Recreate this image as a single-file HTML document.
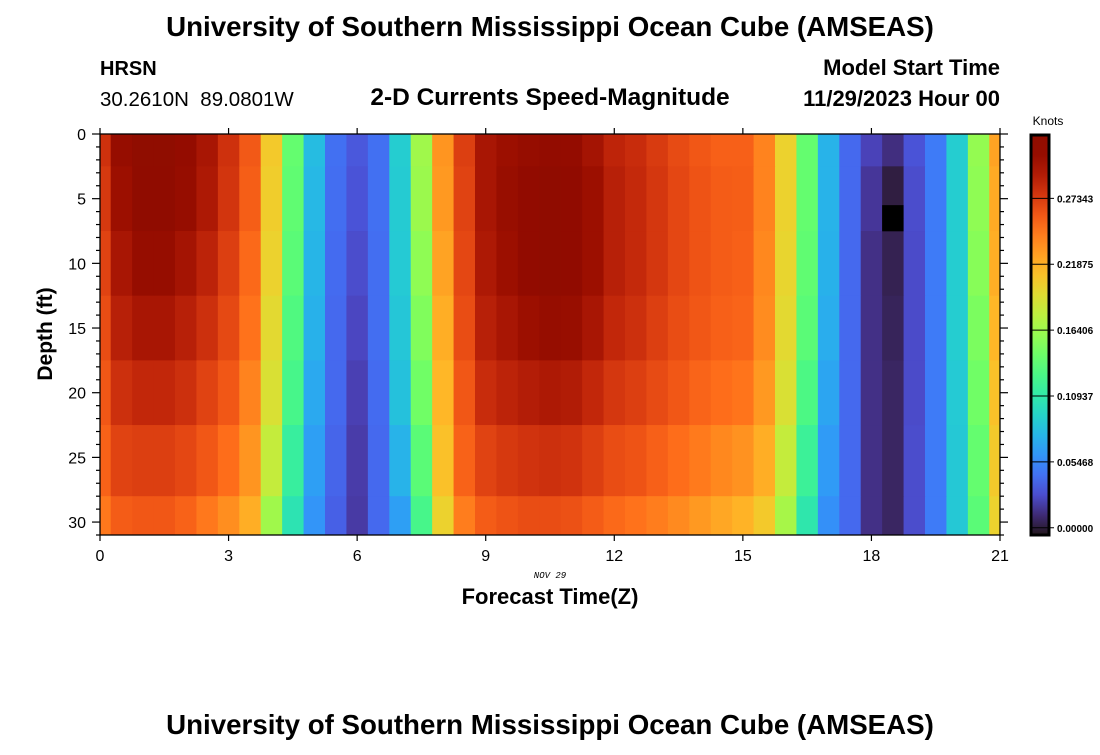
<!DOCTYPE html>
<html><head><meta charset="utf-8"><style>
body{margin:0;background:#fff;width:1100px;height:750px;overflow:hidden;font-family:"Liberation Sans",sans-serif}
svg text{font-family:"Liberation Sans",sans-serif}
</style></head><body>
<svg id="chart" width="1100" height="750" xmlns="http://www.w3.org/2000/svg">
<text x="550" y="36" text-anchor="middle" font-size="27.7" font-weight="bold">University of Southern Mississippi Ocean Cube (AMSEAS)</text>
<text x="100" y="75" font-size="20" font-weight="bold">HRSN</text>
<text x="100" y="106" font-size="20.5" xml:space="preserve">30.2610N  89.0801W</text>
<text x="550" y="105" text-anchor="middle" font-size="24.5" font-weight="bold">2-D Currents Speed-Magnitude</text>
<text x="1000" y="75" text-anchor="end" font-size="22" font-weight="bold">Model Start Time</text>
<text x="1000" y="106" text-anchor="end" font-size="22" font-weight="bold">11/29/2023 Hour 00</text>
<g id="cells"></g>
<g id="axes"></g>
<text transform="translate(52,334) rotate(-90)" text-anchor="middle" font-size="21" font-weight="bold">Depth (ft)</text>
<text x="550" y="578" text-anchor="middle" font-size="9" font-style="italic" style="font-family:'Liberation Mono',monospace">NOV 29</text>
<text x="550" y="604" text-anchor="middle" font-size="22" font-weight="bold">Forecast Time(Z)</text>
<text x="1048" y="125" text-anchor="middle" font-size="12">Knots</text>
<g id="cbar"></g>
<text x="550" y="734" text-anchor="middle" font-size="27.7" font-weight="bold">University of Southern Mississippi Ocean Cube (AMSEAS)</text>
</svg>
<script>
const hours=[0,0.5,1,1.5,2,2.5,3,3.5,4,4.5,5,5.5,6,6.5,7,7.5,8,8.5,9,9.5,10,10.5,11,11.5,12,12.5,13,13.5,14,14.5,15,15.5,16,16.5,17,17.5,18,18.5,19,19.5,20,20.5,21];
const depths=[0,5,10,15,20,25,31];
const speedD0=[0.279,0.31,0.325,0.325,0.312,0.298,0.279,0.259,0.205,0.14,0.08,0.043,0.032,0.043,0.09,0.165,0.232,0.272,0.298,0.305,0.31,0.313,0.312,0.3,0.287,0.282,0.274,0.266,0.26,0.256,0.256,0.24,0.2,0.14,0.075,0.04,0.022,0.012,0.03,0.048,0.09,0.16,0.225];
const speedD5=[0.275,0.305,0.32,0.32,0.31,0.295,0.277,0.257,0.203,0.138,0.078,0.042,0.03,0.043,0.089,0.163,0.23,0.27,0.298,0.308,0.315,0.318,0.316,0.305,0.29,0.284,0.276,0.268,0.262,0.258,0.257,0.24,0.2,0.14,0.075,0.04,0.016,0.004,0.027,0.048,0.09,0.158,0.222];
const speedD10=[0.27,0.298,0.31,0.31,0.3,0.288,0.272,0.252,0.2,0.135,0.076,0.041,0.027,0.042,0.088,0.158,0.225,0.268,0.295,0.305,0.315,0.318,0.316,0.305,0.29,0.284,0.276,0.268,0.262,0.258,0.256,0.238,0.198,0.138,0.074,0.04,0.013,0.006,0.026,0.048,0.09,0.155,0.22];
const speedD15=[0.265,0.29,0.298,0.298,0.29,0.28,0.267,0.248,0.195,0.13,0.074,0.04,0.024,0.042,0.086,0.152,0.22,0.265,0.29,0.298,0.305,0.31,0.308,0.298,0.285,0.28,0.272,0.265,0.26,0.256,0.254,0.236,0.195,0.135,0.072,0.04,0.013,0.007,0.026,0.048,0.09,0.15,0.215];
const speedD20=[0.26,0.28,0.285,0.285,0.28,0.27,0.26,0.24,0.19,0.125,0.07,0.04,0.021,0.041,0.083,0.145,0.215,0.26,0.282,0.288,0.292,0.295,0.293,0.285,0.276,0.272,0.266,0.26,0.254,0.25,0.247,0.23,0.19,0.128,0.068,0.04,0.013,0.008,0.026,0.048,0.088,0.145,0.21];
const speedD25=[0.255,0.27,0.272,0.272,0.268,0.26,0.25,0.232,0.18,0.115,0.065,0.038,0.019,0.04,0.075,0.135,0.21,0.255,0.27,0.275,0.278,0.28,0.278,0.272,0.265,0.262,0.256,0.25,0.244,0.238,0.233,0.22,0.18,0.118,0.063,0.04,0.013,0.008,0.027,0.048,0.087,0.14,0.205];
const speedD31=[0.245,0.258,0.26,0.26,0.255,0.245,0.235,0.22,0.165,0.105,0.06,0.036,0.018,0.04,0.065,0.125,0.2,0.243,0.258,0.262,0.265,0.265,0.263,0.258,0.252,0.248,0.243,0.237,0.23,0.223,0.217,0.205,0.168,0.108,0.058,0.04,0.013,0.008,0.027,0.048,0.087,0.135,0.2];
const speedRows=[speedD0,speedD5,speedD10,speedD15,speedD20,speedD25,speedD31];
const missingHours=[18.5,18.5];
const missingDepths=[6,7];
const xTicks=[0,3,6,9,12,15,18,21];
const yTicks=[0,5,10,15,20,25,30];
const cbTicks=[0,0.05468,0.10937,0.16406,0.21875,0.27343];
const cbLabels=["0.00000","0.05468","0.10937","0.16406","0.21875","0.27343"];

const NS="http://www.w3.org/2000/svg";
const X0=100,X1=1000,Y0=134,Y1=535,VMAX=0.322;
const xs=h=>X0+(h-0)/(21-0)*(X1-X0);
const ys=d=>Y0+(d-0)/(31-0)*(Y1-Y0);
function turbo(t){t=Math.max(0,Math.min(1,t));
const r=0.13572138+t*(4.6153926+t*(-42.66032258+t*(132.13108234+t*(-152.94239396+t*59.28637943))));
const g=0.09140261+t*(2.19418839+t*(4.84296658+t*(-14.18503333+t*(4.27729857+t*2.82956604))));
const b=0.1066733+t*(12.64194608+t*(-60.58204836+t*(110.36276771+t*(-89.90310912+t*27.34824973))));
const c=v=>Math.round(255*Math.max(0,Math.min(1,v)));return `rgb(${c(r)},${c(g)},${c(b)})`;}
const col=v=>turbo(v/VMAX);
function mk(tag,attrs,parent){const e=document.createElementNS(NS,tag);for(const k in attrs)e.setAttribute(k,attrs[k]);parent.appendChild(e);return e;}
const cells=document.getElementById('cells');
const dh=0.25;
for(let j=0;j<depths.length;j++){
 const dTop=j===0?0:(depths[j-1]+depths[j])/2, dBot=j===depths.length-1?31:(depths[j]+depths[j+1])/2;
 for(let i=0;i<hours.length;i++){
  const h0=Math.max(0,hours[i]-dh),h1=Math.min(21,hours[i]+dh);
  const r=mk('rect',{x:xs(h0),y:ys(dTop),width:xs(h1)-xs(h0)+0.5,height:ys(dBot)-ys(dTop)+0.5,fill:col(speedRows[j][i])},cells);
  
  
 }
}
for(let k=0;k<missingHours.length;k++){
 const r=mk('rect',{x:xs(missingHours[k]-dh),y:ys(missingDepths[k]-0.5),width:xs(missingHours[k]+dh)-xs(missingHours[k]-dh),height:ys(missingDepths[k]+0.5)-ys(missingDepths[k]-0.5)+0.3,fill:'#000'},cells);
 
 
}
const ax=document.getElementById('axes');
const fr=mk('rect',{x:X0,y:Y0,width:X1-X0,height:Y1-Y0,fill:'none',stroke:'#000','stroke-width':1.3},ax);


for(let d=0;d<=31;d++){const L=d%5===0?8:4;
 mk('line',{x1:X0-L,x2:X0,y1:ys(d),y2:ys(d),stroke:'#000','stroke-width':1.2},ax);
 mk('line',{x1:X1,x2:X1+L,y1:ys(d),y2:ys(d),stroke:'#000','stroke-width':1.2},ax);}
yTicks.forEach(d=>{const t=mk('text',{x:86,y:ys(d)+6,'text-anchor':'end','font-size':16},ax);t.textContent=d;
 
 });
xTicks.forEach(h=>{mk('line',{x1:xs(h),x2:xs(h),y1:Y0-6,y2:Y0,stroke:'#000','stroke-width':1.2},ax);
 mk('line',{x1:xs(h),x2:xs(h),y1:Y1,y2:Y1+6,stroke:'#000','stroke-width':1.2},ax);
 const t=mk('text',{x:xs(h),y:561,'text-anchor':'middle','font-size':16},ax);t.textContent=h;
 
 });
const cb=document.getElementById('cbar');
const CX=1031,CW=18,CT=135,CBt=535,CMIN=-0.006,CMAX=0.326;
const cy=v=>CBt-(v-CMIN)/(CMAX-CMIN)*(CBt-CT);
const defs=mk('defs',{},cb);const gr=mk('linearGradient',{id:'g',x1:0,y1:1,x2:0,y2:0},defs);
for(let s=0;s<=20;s++){const v=CMIN+(CMAX-CMIN)*s/20;mk('stop',{offset:s/20,'stop-color':col(Math.max(0,v))},gr);}
const bar=mk('rect',{x:CX,y:CT,width:CW,height:CBt-CT,fill:'url(#g)',stroke:'#000','stroke-width':3},cb);


cbTicks.forEach((v,i)=>{mk('line',{x1:CX,x2:CX+CW+5,y1:cy(v),y2:cy(v),stroke:'#000','stroke-width':1},cb);
 const t=mk('text',{x:CX+CW+8,y:cy(v)+4,'font-size':10,'font-weight':'bold'},cb);t.textContent=cbLabels[i];
 
 });
</script>
</body></html>
